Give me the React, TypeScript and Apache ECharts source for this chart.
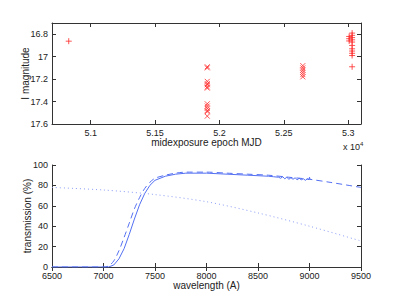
import React, { useEffect, useRef } from "react";
import * as echarts from "echarts";

// ---- Top panel data (MJD, I magnitude) ----
const plusPoints: [number, number][] = [
  [50830, 16.862],
  [53008, 16.82], [53008, 16.84], [53008, 16.86],
  [53031, 16.79], [53031, 16.81], [53031, 16.83], [53031, 16.85], [53031, 16.87],
  [53031, 16.9], [53031, 16.93], [53031, 16.95], [53031, 16.97], [53031, 16.99],
  [53031, 17.09],
];
const crossPoints: [number, number][] = [
  [51906, 17.09], [51906, 17.1],
  [51906, 17.22], [51906, 17.24], [51906, 17.25], [51906, 17.27], [51906, 17.28],
  [51906, 17.42], [51906, 17.44], [51906, 17.46], [51906, 17.48], [51906, 17.49], [51906, 17.53],
  [52648, 17.08], [52648, 17.1], [52648, 17.12], [52648, 17.14], [52648, 17.16], [52648, 17.18],
];
const topXTicks = [51000, 51500, 52000, 52500, 53000];
const topYTicks = [16.8, 17, 17.2, 17.4, 17.6];

// ---- Bottom panel data (wavelength A, transmission %) ----
const solidWl = [6500, 7000, 7050, 7100, 7150, 7200, 7250, 7300, 7350, 7400, 7450, 7500, 7600, 7700, 7800, 8000, 8200, 8400, 8600, 8650, 8700, 8720, 8740, 8760, 8780, 8800, 8820, 8840, 8860, 8880, 8900, 8920, 8940, 8960, 8980, 8995, 9000, 9005];
const solidT = [0, 0, 0, 2, 8, 18, 32, 47, 61, 72, 80, 85, 89, 91, 92, 92, 91, 90, 89, 88.5, 88, 87, 88.5, 86.5, 88, 86, 87.5, 86, 87.5, 85.5, 87, 85.5, 86.5, 85, 86.5, 85.5, 88, 86];
const dashedWl = [6500, 7000, 7050, 7100, 7150, 7200, 7250, 7300, 7350, 7400, 7450, 7500, 7600, 7700, 7800, 8000, 8200, 8400, 8600, 8800, 9000, 9200, 9500];
const dashedT = [0, 0, 1, 6, 16, 29, 43, 57, 68, 77, 83, 87, 90, 92, 93, 93, 92, 91, 90, 88, 86, 83, 78];
const dottedWl = [6500, 7000, 7500, 8000, 8500, 9000, 9500];
const dottedT = [78, 75.5, 71, 64, 53, 40, 25.5];

const BLUE = "#5470f2";
const RED = "#ff2a2a";
const AX = "#333333";
const FONT = "Liberation Sans, Arial, sans-serif";

function fmtTop(v: number) {
  return String(Math.round((v / 1e4) * 1000) / 1000);
}

export default function App() {
  const ref = useRef<HTMLDivElement>(null);
  useEffect(() => {
    if (!ref.current) return;
    const chart = echarts.init(ref.current, undefined, { renderer: "svg" });
    const axLine = { show: true, lineStyle: { color: AX, width: 1 } };
    const tick = { show: true, inside: true, length: 4, lineStyle: { color: AX } };
    const lbl = { color: "#222", fontSize: 9, fontFamily: FONT, margin: 4 };
    const nameStyle = { color: "#222", fontSize: 10, fontFamily: FONT };

    const topX = { min: 50700, max: 53100 };
    const topY = { min: 16.7, max: 17.6, inverse: true };
    const botX = { min: 6500, max: 9500, interval: 500 };
    const botY = { min: 0, max: 100, interval: 20 };

    chart.setOption({
      animation: false,
      backgroundColor: "#fff",
      grid: [
        { left: 52, top: 23, width: 309, height: 101 },
        { left: 52, top: 165, width: 309, height: 102 },
      ],
      xAxis: [
        {
          type: "value", gridIndex: 0, position: "bottom", ...topX,
          axisLine: axLine, splitLine: { show: false },
          axisTick: { ...tick, customValues: topXTicks },
          axisLabel: { ...lbl, customValues: topXTicks, formatter: fmtTop },
          name: "midexposure epoch MJD", nameLocation: "middle", nameGap: 13, nameMoveOverlap: false, nameTextStyle: nameStyle,
        },
        {
          type: "value", gridIndex: 0, position: "top", ...topX,
          axisLine: axLine, splitLine: { show: false },
          axisTick: { ...tick, customValues: topXTicks },
          axisLabel: { show: false },
        },
        {
          type: "value", gridIndex: 1, position: "bottom", ...botX,
          axisLine: axLine, splitLine: { show: false }, axisTick: tick,
          axisLabel: { ...lbl, formatter: (v: number) => String(v) },
          name: "wavelength (A)", nameLocation: "middle", nameGap: 13, nameMoveOverlap: false, nameTextStyle: nameStyle,
        },
        {
          type: "value", gridIndex: 1, position: "top", ...botX,
          axisLine: axLine, splitLine: { show: false }, axisTick: tick,
          axisLabel: { show: false },
        },
      ],
      yAxis: [
        {
          type: "value", gridIndex: 0, position: "left", ...topY,
          axisLine: axLine, splitLine: { show: false },
          axisTick: { ...tick, customValues: topYTicks },
          axisLabel: { ...lbl, customValues: topYTicks, formatter: (v: number) => String(Math.round(v * 10) / 10) },
          name: "I magnitude", nameLocation: "middle", nameGap: 22, nameMoveOverlap: false, nameTextStyle: nameStyle,
        },
        {
          type: "value", gridIndex: 0, position: "right", ...topY,
          axisLine: axLine, splitLine: { show: false },
          axisTick: { ...tick, customValues: topYTicks },
          axisLabel: { show: false },
        },
        {
          type: "value", gridIndex: 1, position: "left", ...botY,
          axisLine: axLine, splitLine: { show: false }, axisTick: tick,
          axisLabel: { ...lbl },
          name: "transmission (%)", nameLocation: "middle", nameGap: 20, nameMoveOverlap: false, nameTextStyle: nameStyle,
        },
        {
          type: "value", gridIndex: 1, position: "right", ...botY,
          axisLine: axLine, splitLine: { show: false }, axisTick: tick,
          axisLabel: { show: false },
        },
      ],
      graphic: [
        {
          type: "text", left: 343, top: 141,
          style: {
            text: "x 10{s|4}", fill: "#222", font: `9px ${FONT}`,
            rich: { s: { fontSize: 6, verticalAlign: "top", padding: [0, 0, 5, 0], fill: "#222" } },
          },
        },
      ],
      series: [
        {
          type: "scatter", xAxisIndex: 0, yAxisIndex: 0, data: plusPoints,
          symbol: "path://M0,-1L0,1M-1,0L1,0", symbolSize: 6,
          itemStyle: { color: "transparent", borderColor: RED, borderWidth: 1, opacity: 0.8 },
        },
        {
          type: "scatter", xAxisIndex: 0, yAxisIndex: 0, data: crossPoints,
          symbol: "path://M-1,-1L1,1M-1,1L1,-1", symbolSize: 5,
          itemStyle: { color: "transparent", borderColor: RED, borderWidth: 1, opacity: 0.8 },
        },
        {
          type: "line", xAxisIndex: 2, yAxisIndex: 2, showSymbol: false,
          data: solidWl.map((w, i) => [w, solidT[i]]),
          lineStyle: { color: BLUE, width: 1 },
        },
        {
          type: "line", xAxisIndex: 2, yAxisIndex: 2, showSymbol: false, smooth: 0.3,
          data: dashedWl.map((w, i) => [w, dashedT[i]]),
          lineStyle: { color: BLUE, width: 1, type: [6, 4] },
        },
        {
          type: "line", xAxisIndex: 2, yAxisIndex: 2, showSymbol: false, smooth: 0.3,
          data: dottedWl.map((w, i) => [w, dottedT[i]]),
          lineStyle: { color: "#8c9cf5", width: 1, type: [1, 3] },
        },
      ],
    });
    return () => chart.dispose();
  }, []);
  return <div ref={ref} style={{ width: 399, height: 300, position: "absolute", left: 0, top: 0 }} />;
}
